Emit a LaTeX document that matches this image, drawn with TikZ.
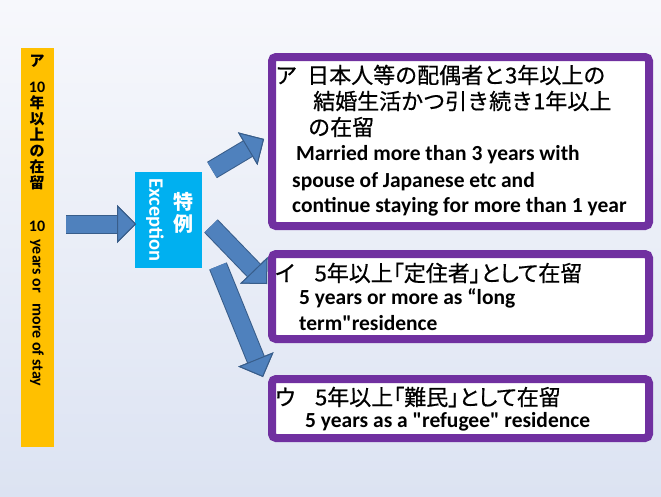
\documentclass[tikz,border=0pt]{standalone}
\usepackage{fontspec}
\setmainfont{Carlito}
\newfontfamily\jp{Noto Sans CJK JP}
\usetikzlibrary{arrows.meta}

\definecolor{barorange}{HTML}{FFC000}
\definecolor{exccyan}{HTML}{00B0F0}
\definecolor{boxpurple}{HTML}{7030A0}
\definecolor{arrowblue}{HTML}{4F81BD}
\definecolor{arrowedge}{HTML}{385D8A}
\definecolor{bgtop}{HTML}{F7F8FC}
\definecolor{bgmid}{HTML}{BFCFEA}
\definecolor{bgbot}{HTML}{DCE3F2}

\tikzset{
  fat/.style={draw=arrowblue, line width=17pt, -{Triangle[width=38pt, length=19pt, line width=1pt, fill=arrowblue, color=arrowedge]}, preaction={draw=arrowedge, line width=19pt}},
  purplebox/.style={draw=boxpurple, line width=8pt, fill=white, rounded corners=4pt, minimum width=377},
  jptext/.style={font=\jp\addfontfeatures{FakeBold=0.6}\fontsize{22}{25}\selectfont, anchor=west, inner sep=0pt},
  jpprop/.style={jptext, font=\jp\addfontfeatures{FakeBold=0.6,RawFeature=+palt}\fontsize{22}{25}\selectfont},
  entext/.style={font=\bfseries\fontsize{21.5}{24}\selectfont, anchor=west, inner sep=0pt},
  bartext/.style={font=\bfseries\fontsize{16}{16}\selectfont, inner sep=0pt},
}

\begin{document}
\begin{tikzpicture}[x=1pt, y=-1pt]

\shade[top color=bgtop, middle color=bgmid, bottom color=bgbot] (0,0) rectangle (661,496);

% yellow bar, vertical text
\node[fill=barorange, minimum width=33, minimum height=399, inner sep=0pt] (bar) at (37.5,247.5) {};
\node[bartext, font=\jp\bfseries\fontsize{15}{16}\selectfont] (bara) at (37,61) {ア};
\node[bartext] (barten) at (37,87) {10};
\node[bartext, font=\jp\bfseries\fontsize{15}{16}\selectfont, align=center] (barjp) at (37,143) {年\\以\\上\\の\\在\\留};
\node[bartext] (barten2) at (37,226) {10};
\node[bartext, rotate=-90] (baren) at (37,313) {years or\ \ \ more of stay};

% exception box
\node[fill=exccyan, minimum width=67, minimum height=96, inner sep=0pt] (exc) at (168.5,220) {};
\node[font=\jp\bfseries\fontsize{20}{22}\selectfont, text=white, align=center, inner sep=0pt] (excjp) at (183,213) {特\\例};
\node[font=\bfseries\fontsize{20.5}{22}\selectfont, text=white, rotate=-90, inner sep=0pt] (excen) at (155,220) {Exception};

% the three cases
\node[purplebox, minimum height=169] (b1) at (460.5,141.5) {};
\node[purplebox, minimum height=85] (b2) at (460.5,296.5) {};
\node[purplebox, minimum height=59] (b3) at (460.5,408.5) {};

\node[jptext] (b1j1) at (275,75) {ア\hspace{10pt}日本人等の配偶者と3年以上の};
\node[jptext] (b1j2) at (313,101) {結婚生活かつ引き続き1年以上};
\node[jptext] (b1j3) at (308,127) {の在留};
\node[entext] (b1e1) at (296,155) {Married more than 3 years with};
\node[entext] (b1e2) at (292,182) {spouse of Japanese etc and};
\node[entext] (b1e3) at (292,207) {continue staying for more than 1 year};

\node[jpprop] (b2j) at (275,273) {イ\hspace{20pt}5年以上「定住者」として在留};
\node[entext] (b2e1) at (299,298) {5 years or more as “long};
\node[entext] (b2e2) at (299,323) {term\textquotedbl residence};

\node[jpprop] (b3j) at (275,397) {ウ\hspace{20pt}5年以上「難民」として在留};
\node[entext] (b3e) at (305,422) {5 years as a \textquotedbl refugee\textquotedbl{} residence};

% block arrows
\coordinate (t0) at (66,224);
\coordinate (h0) at (136,224);
\coordinate (t1) at (212,170);
\coordinate (h1) at (264,139);
\coordinate (t2) at (211,226);
\coordinate (h2) at (267,284);
\coordinate (t3) at (218,266);
\coordinate (h3) at (263,377);
\draw[fat] (t0) -- (h0);
\draw[fat] (t1) -- (h1);
\draw[fat] (t2) -- (h2);
\draw[fat] (t3) -- (h3);

\end{tikzpicture}
\end{document}
